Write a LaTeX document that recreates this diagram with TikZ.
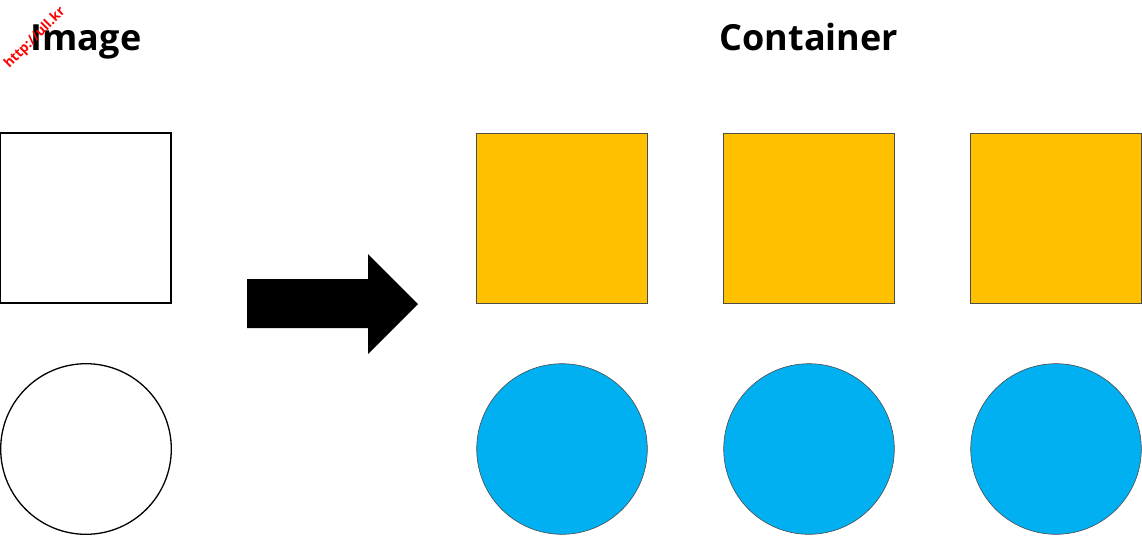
\documentclass[tikz,border=0pt]{standalone}
\usepackage{fontspec}
\setmainfont{Open Sans}
\usepackage{tikz}
\definecolor{boxgold}{HTML}{FFC000}
\definecolor{ballblue}{HTML}{00B0F0}
\tikzset{
  title/.style={font=\fontsize{36}{40}\selectfont\bfseries, inner sep=0pt},
  imgbox/.style={draw=black, line width=1.3pt, fill=white},
  ctrbox/.style={draw=black!70, line width=0.6pt, fill=boxgold},
  ctrball/.style={draw=black!70, line width=0.6pt, fill=ballblue},
}
\begin{document}
\begin{tikzpicture}[x=1pt,y=-1pt]
        \useasboundingbox (0,0) rectangle (1142,536);
        % titles
        \node[title] (imgtitle) at (86,42) {Image};
        \node[title] (ctrtitle) at (809,37) {Container};
        \node[text=red, font=\fontsize{13.5}{14}\selectfont\bfseries, rotate=45, inner sep=0pt] (mark) at (35,38) {http://ull.kr};
        % image
        \draw[imgbox] (0.7,133) rectangle (171,303);
        \draw[imgbox] (86,449) circle (85.3);
        % arrow
        \fill[black] (247,279) -- (368,279) -- (368,254) -- (418,304) -- (368,354) -- (368,328) -- (247,328) -- cycle;
        % containers
        \foreach \cx in {562,809,1056} {
            \draw[ctrbox] (\cx-85.3,133) rectangle (\cx+85.3,303.5);
            \draw[ctrball] (\cx,449) circle (85.3);
        }
    \end{tikzpicture}
\end{document}
